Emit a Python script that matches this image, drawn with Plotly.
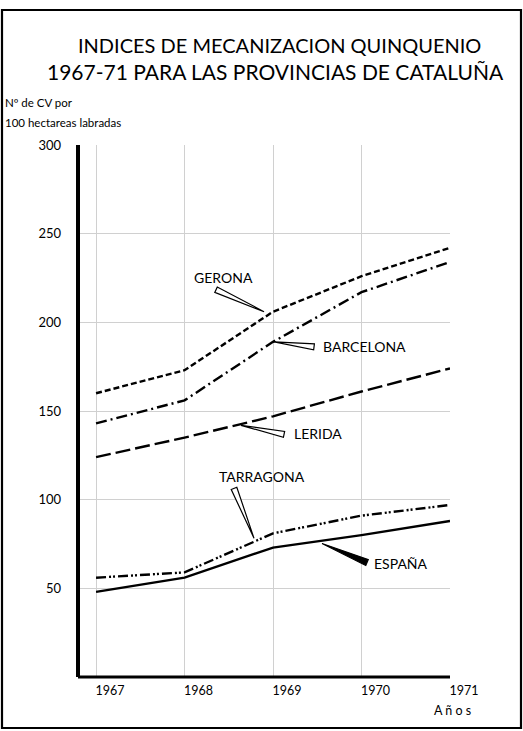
import plotly.graph_objects as go

years = [1967, 1968, 1969, 1970, 1971]
gerona = [160, 173, 206, 226, 242]
barcelona = [143, 156, 189, 217, 234]
lerida = [124, 135, 147, 161, 174]
tarragona = [56, 59, 81, 91, 97]
espana = [48, 56, 73, 80, 88]
y_ticks = [0, 50, 100, 150, 200, 250, 300]
y_ticklabels = ["", "50", "100", "150", "200", "250", "300"]

series = [
    ("GERONA", gerona, "6px,3px"),
    ("BARCELONA", barcelona, "11px,4px,2px,4px"),
    ("LERIDA", lerida, "15px,5px"),
    ("TARRAGONA", tarragona, "10px,3px,2px,2px,2px,3px"),
    ("ESPAÑA", espana, "solid"),
]

FONT = "Lato"
fig = go.Figure()
for name, vals, dash in series:
    fig.add_trace(go.Scatter(x=years, y=vals, mode="lines", name=name,
                             line=dict(color="black", width=2.4, dash=dash),
                             showlegend=False, hoverinfo="skip"))

W, H = 523, 731
L, R, T, B = 78, 73, 145, 54
pw, ph = W - L - R, H - T - B


def px_x(p):
    return (p - L) / pw


def px_y(p):
    return (H - B - p) / ph


def wedge(tip, base, hw):
    # tip/base: pixel offsets (dx, dy up) from anchor
    import math
    dx, dy = base[0] - tip[0], base[1] - tip[1]
    n = math.hypot(dx, dy)
    ux, uy = -dy / n * hw, dx / n * hw
    return (f"M{tip[0]},{tip[1]} L{base[0]+ux},{base[1]+uy} "
            f"L{base[0]-ux},{base[1]-uy} Z")


# pointers: (series values, tip, base, halfwidth, filled)
pointers = [
    (gerona, (-9, 0), (-57, 22), 3, False),
    (barcelona, (1, 0), (41, -5), 3, False),
    (lerida, (-32, -9), (11, -18), 3, False),
    (tarragona, (-19, -5), (-39, 45), 3, False),
    (espana, (49, 4), (94, -15), 3.2, True),
]
shapes = []
for vals, tip, base, hw, filled in pointers:
    shapes.append(dict(type="path", xref="x", yref="y", xsizemode="pixel", ysizemode="pixel",
                       xanchor=years[2], yanchor=vals[2], path=wedge(tip, base, hw),
                       line=dict(color="black", width=1.2),
                       fillcolor="black" if filled else "white"))

# outer frame
shapes.append(dict(type="rect", xref="paper", yref="paper",
                   x0=px_x(2), x1=px_x(521), y0=px_y(728), y1=px_y(10),
                   line=dict(color="black", width=2.2)))
# axis spines
shapes.append(dict(type="line", xref="paper", yref="paper", x0=0, x1=0, y0=0, y1=1,
                   line=dict(color="black", width=4)))
shapes.append(dict(type="line", xref="paper", yref="paper", x0=0, x1=1, y0=0, y1=0,
                   line=dict(color="black", width=3)))

lab_font = dict(family=FONT, size=14, color="black")
labels = [
    ("GERONA", gerona, -50, 34, "center"),
    ("BARCELONA", barcelona, 48, -5, "left"),
    ("LERIDA", lerida, 19, -17, "left"),
    ("TARRAGONA", tarragona, -11, 57, "center"),
    ("ESPAÑA", espana, 99, -16, "left"),
]
annotations = []
for text, vals, xs, ys, anc in labels:
    annotations.append(dict(x=years[2], y=vals[2], xref="x", yref="y", text=text,
                            showarrow=False, xshift=xs, yshift=ys, xanchor=anc,
                            yanchor="middle", font=lab_font))

annotations += [
    dict(xref="paper", yref="paper", x=px_x(279), y=px_y(45), text="INDICES DE MECANIZACION QUINQUENIO",
         showarrow=False, xanchor="center", yanchor="middle", font=dict(family=FONT, size=20, color="black")),
    dict(xref="paper", yref="paper", x=px_x(275), y=px_y(72), text="1967-71 PARA LAS PROVINCIAS DE CATALUÑA",
         showarrow=False, xanchor="center", yanchor="middle", font=dict(family=FONT, size=21, color="black")),
    dict(xref="paper", yref="paper", x=px_x(3), y=px_y(103), text="Nº de CV por",
         showarrow=False, xanchor="left", yanchor="middle", font=dict(family=FONT, size=11.5, color="black")),
    dict(xref="paper", yref="paper", x=px_x(3), y=px_y(122), text="100 hectareas labradas",
         showarrow=False, xanchor="left", yanchor="middle", font=dict(family=FONT, size=11.5, color="black")),
    dict(xref="paper", yref="paper", x=px_x(452), y=px_y(710), text="A ñ o s",
         showarrow=False, xanchor="center", yanchor="middle", font=dict(family=FONT, size=12.5, color="black")),
]

fig.update_layout(
    width=W, height=H,
    margin=dict(l=L, r=R, t=T, b=B, pad=0),
    paper_bgcolor="white", plot_bgcolor="white",
    shapes=shapes, annotations=annotations,
    xaxis=dict(range=[1966.796, 1971.0], tickmode="array", tickvals=years,
               ticktext=[str(y) for y in years], showgrid=True, gridcolor="#d0d0d0",
               gridwidth=1, zeroline=False, showline=False, ticks="",
               ticklabelshift=14, ticklabelstandoff=4,
               tickfont=dict(family=FONT, size=12.5, color="black")),
    yaxis=dict(range=[0, 300], tickmode="array", tickvals=y_ticks, ticktext=y_ticklabels,
               showgrid=True, gridcolor="#d0d0d0", gridwidth=1, zeroline=False,
               showline=False, ticks="", ticklabelstandoff=16,
               tickfont=dict(family=FONT, size=13, color="black")),
)

fig.write_html("out.html", config={"displayModeBar": False},
               post_script="document.body.style.margin='0';")
